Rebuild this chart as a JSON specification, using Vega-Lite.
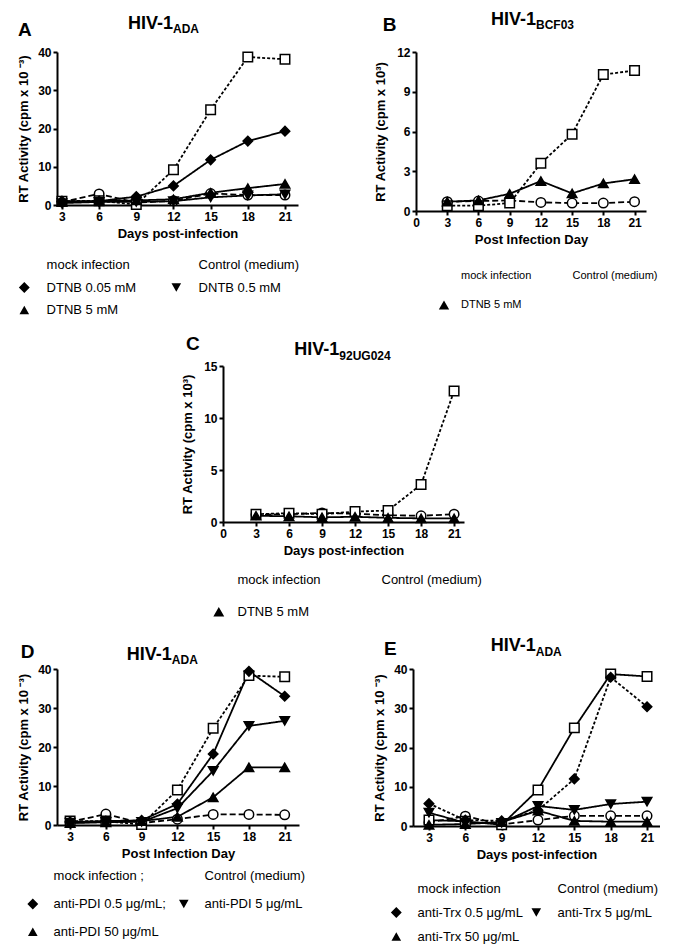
{
 "$schema": "https://vega.github.io/schema/vega-lite/v6.json",
 "padding": {"left": 17, "top": 10, "right": 0, "bottom": 0},
 "autosize": {"type": "pad"},
 "background": "white",
 "config": {
  "font": "Liberation Sans",
  "view": {"stroke": null},
  "axis": {"domainColor": "black", "domainWidth": 2, "tickColor": "black", "tickWidth": 2, "tickSize": 4, "labelFont": "Liberation Sans", "labelFontWeight": "bold", "labelFontSize": 12, "labelColor": "black", "titleFont": "Liberation Sans", "titleFontWeight": "bold", "titleFontSize": 13, "titleColor": "black", "grid": false, "labelPadding": 2, "labelFlush": false, "labelOverlap": false, "tickCount": 30},
  "legend": {"padding": 0, "labelFont": "Liberation Sans", "labelColor": "black", "labelLimit": 400, "symbolStrokeColor": "black", "symbolStrokeWidth": 1.5, "symbolOpacity": 1, "direction": "horizontal"},
  "text": {"font": "Liberation Sans", "fontWeight": "bold", "color": "black"}
 },
 "datasets": {
  "A": [
   {"series": "mock infection", "day": 3, "rt": 0.8}, {"series": "mock infection", "day": 6, "rt": 2.9}, {"series": "mock infection", "day": 9, "rt": 0.6}, {"series": "mock infection", "day": 12, "rt": 1.1}, {"series": "mock infection", "day": 15, "rt": 3.0}, {"series": "mock infection", "day": 18, "rt": 2.6}, {"series": "mock infection", "day": 21, "rt": 2.6},
   {"series": "Control (medium)", "day": 3, "rt": 1.0}, {"series": "Control (medium)", "day": 6, "rt": 1.1}, {"series": "Control (medium)", "day": 9, "rt": 0.1}, {"series": "Control (medium)", "day": 12, "rt": 9.2}, {"series": "Control (medium)", "day": 15, "rt": 24.9}, {"series": "Control (medium)", "day": 18, "rt": 38.7}, {"series": "Control (medium)", "day": 21, "rt": 38.1},
   {"series": "DTNB 0.05 mM", "day": 3, "rt": 1.0}, {"series": "DTNB 0.05 mM", "day": 6, "rt": 1.0}, {"series": "DTNB 0.05 mM", "day": 9, "rt": 2.2}, {"series": "DTNB 0.05 mM", "day": 12, "rt": 5.0}, {"series": "DTNB 0.05 mM", "day": 15, "rt": 11.8}, {"series": "DTNB 0.05 mM", "day": 18, "rt": 16.7}, {"series": "DTNB 0.05 mM", "day": 21, "rt": 19.3},
   {"series": "DNTB 0.5 mM", "day": 3, "rt": 0.5}, {"series": "DNTB 0.5 mM", "day": 6, "rt": 0.8}, {"series": "DNTB 0.5 mM", "day": 9, "rt": 0.8}, {"series": "DNTB 0.5 mM", "day": 12, "rt": 1.0}, {"series": "DNTB 0.5 mM", "day": 15, "rt": 2.0}, {"series": "DNTB 0.5 mM", "day": 18, "rt": 2.5}, {"series": "DNTB 0.5 mM", "day": 21, "rt": 2.8},
   {"series": "DTNB 5 mM", "day": 3, "rt": 0.8}, {"series": "DTNB 5 mM", "day": 6, "rt": 1.0}, {"series": "DTNB 5 mM", "day": 9, "rt": 1.2}, {"series": "DTNB 5 mM", "day": 12, "rt": 1.5}, {"series": "DTNB 5 mM", "day": 15, "rt": 3.2}, {"series": "DTNB 5 mM", "day": 18, "rt": 4.4}, {"series": "DTNB 5 mM", "day": 21, "rt": 5.5}
  ],
  "B": [
   {"series": "mock infection", "day": 3, "rt": 0.7}, {"series": "mock infection", "day": 6, "rt": 0.75}, {"series": "mock infection", "day": 9, "rt": 0.8}, {"series": "mock infection", "day": 12, "rt": 0.65}, {"series": "mock infection", "day": 15, "rt": 0.6}, {"series": "mock infection", "day": 18, "rt": 0.6}, {"series": "mock infection", "day": 21, "rt": 0.7},
   {"series": "Control (medium)", "day": 3, "rt": 0.4}, {"series": "Control (medium)", "day": 6, "rt": 0.4}, {"series": "Control (medium)", "day": 9, "rt": 0.6}, {"series": "Control (medium)", "day": 12, "rt": 3.6}, {"series": "Control (medium)", "day": 15, "rt": 5.8}, {"series": "Control (medium)", "day": 18, "rt": 10.3}, {"series": "Control (medium)", "day": 21, "rt": 10.6},
   {"series": "DTNB 5 mM", "day": 3, "rt": 0.7}, {"series": "DTNB 5 mM", "day": 6, "rt": 0.8}, {"series": "DTNB 5 mM", "day": 9, "rt": 1.3}, {"series": "DTNB 5 mM", "day": 12, "rt": 2.26}, {"series": "DTNB 5 mM", "day": 15, "rt": 1.33}, {"series": "DTNB 5 mM", "day": 18, "rt": 2.08}, {"series": "DTNB 5 mM", "day": 21, "rt": 2.4}
  ],
  "C": [
   {"series": "mock infection", "day": 3, "rt": 0.7}, {"series": "mock infection", "day": 6, "rt": 0.75}, {"series": "mock infection", "day": 9, "rt": 0.87}, {"series": "mock infection", "day": 12, "rt": 0.8}, {"series": "mock infection", "day": 15, "rt": 0.65}, {"series": "mock infection", "day": 18, "rt": 0.6}, {"series": "mock infection", "day": 21, "rt": 0.75},
   {"series": "Control (medium)", "day": 3, "rt": 0.75}, {"series": "Control (medium)", "day": 6, "rt": 0.85}, {"series": "Control (medium)", "day": 9, "rt": 0.75}, {"series": "Control (medium)", "day": 12, "rt": 1.0}, {"series": "Control (medium)", "day": 15, "rt": 1.1}, {"series": "Control (medium)", "day": 18, "rt": 3.6}, {"series": "Control (medium)", "day": 21, "rt": 12.6},
   {"series": "DTNB 5 mM", "day": 3, "rt": 0.6}, {"series": "DTNB 5 mM", "day": 6, "rt": 0.55}, {"series": "DTNB 5 mM", "day": 9, "rt": 0.45}, {"series": "DTNB 5 mM", "day": 12, "rt": 0.5}, {"series": "DTNB 5 mM", "day": 15, "rt": 0.4}, {"series": "DTNB 5 mM", "day": 18, "rt": 0.35}, {"series": "DTNB 5 mM", "day": 21, "rt": 0.35}
  ],
  "D": [
   {"series": "mock infection ;", "day": 3, "rt": 0.8}, {"series": "mock infection ;", "day": 6, "rt": 2.8}, {"series": "mock infection ;", "day": 9, "rt": 0.5}, {"series": "mock infection ;", "day": 12, "rt": 1.5}, {"series": "mock infection ;", "day": 15, "rt": 2.7}, {"series": "mock infection ;", "day": 18, "rt": 2.7}, {"series": "mock infection ;", "day": 21, "rt": 2.6},
   {"series": "Control (medium)", "day": 3, "rt": 1.0}, {"series": "Control (medium)", "day": 6, "rt": 1.0}, {"series": "Control (medium)", "day": 9, "rt": 0.1}, {"series": "Control (medium)", "day": 12, "rt": 9.0}, {"series": "Control (medium)", "day": 15, "rt": 24.8}, {"series": "Control (medium)", "day": 18, "rt": 38.3}, {"series": "Control (medium)", "day": 21, "rt": 38.0},
   {"series": "anti-PDI 0.5 μg/mL;", "day": 3, "rt": 0.8}, {"series": "anti-PDI 0.5 μg/mL;", "day": 6, "rt": 1.0}, {"series": "anti-PDI 0.5 μg/mL;", "day": 9, "rt": 1.2}, {"series": "anti-PDI 0.5 μg/mL;", "day": 12, "rt": 5.4}, {"series": "anti-PDI 0.5 μg/mL;", "day": 15, "rt": 18.2}, {"series": "anti-PDI 0.5 μg/mL;", "day": 18, "rt": 39.4}, {"series": "anti-PDI 0.5 μg/mL;", "day": 21, "rt": 33.0},
   {"series": "anti-PDI 5 μg/mL", "day": 3, "rt": 0.6}, {"series": "anti-PDI 5 μg/mL", "day": 6, "rt": 0.8}, {"series": "anti-PDI 5 μg/mL", "day": 9, "rt": 0.8}, {"series": "anti-PDI 5 μg/mL", "day": 12, "rt": 4.3}, {"series": "anti-PDI 5 μg/mL", "day": 15, "rt": 13.9}, {"series": "anti-PDI 5 μg/mL", "day": 18, "rt": 25.4}, {"series": "anti-PDI 5 μg/mL", "day": 21, "rt": 26.7},
   {"series": "anti-PDI 50 μg/mL", "day": 3, "rt": 0.5}, {"series": "anti-PDI 50 μg/mL", "day": 6, "rt": 0.7}, {"series": "anti-PDI 50 μg/mL", "day": 9, "rt": 1.0}, {"series": "anti-PDI 50 μg/mL", "day": 12, "rt": 2.1}, {"series": "anti-PDI 50 μg/mL", "day": 15, "rt": 7.1}, {"series": "anti-PDI 50 μg/mL", "day": 18, "rt": 14.8}, {"series": "anti-PDI 50 μg/mL", "day": 21, "rt": 14.8}
  ],
  "E": [
   {"series": "mock infection", "day": 3, "rt": 0.9}, {"series": "mock infection", "day": 6, "rt": 2.5}, {"series": "mock infection", "day": 9, "rt": 0.4}, {"series": "mock infection", "day": 12, "rt": 1.5}, {"series": "mock infection", "day": 15, "rt": 2.6}, {"series": "mock infection", "day": 18, "rt": 2.6}, {"series": "mock infection", "day": 21, "rt": 2.6},
   {"series": "Control (medium)", "day": 3, "rt": 1.5}, {"series": "Control (medium)", "day": 6, "rt": 1.2}, {"series": "Control (medium)", "day": 9, "rt": 0.3}, {"series": "Control (medium)", "day": 12, "rt": 9.2}, {"series": "Control (medium)", "day": 15, "rt": 25.0}, {"series": "Control (medium)", "day": 18, "rt": 38.7}, {"series": "Control (medium)", "day": 21, "rt": 38.1},
   {"series": "anti-Trx 0.5 μg/mL", "day": 3, "rt": 5.7}, {"series": "anti-Trx 0.5 μg/mL", "day": 6, "rt": 1.5}, {"series": "anti-Trx 0.5 μg/mL", "day": 9, "rt": 1.3}, {"series": "anti-Trx 0.5 μg/mL", "day": 12, "rt": 4.0}, {"series": "anti-Trx 0.5 μg/mL", "day": 15, "rt": 12.0}, {"series": "anti-Trx 0.5 μg/mL", "day": 18, "rt": 37.9}, {"series": "anti-Trx 0.5 μg/mL", "day": 21, "rt": 30.4},
   {"series": "anti-Trx 5 μg/mL", "day": 3, "rt": 3.4}, {"series": "anti-Trx 5 μg/mL", "day": 6, "rt": 0.8}, {"series": "anti-Trx 5 μg/mL", "day": 9, "rt": 0.8}, {"series": "anti-Trx 5 μg/mL", "day": 12, "rt": 5.1}, {"series": "anti-Trx 5 μg/mL", "day": 15, "rt": 4.1}, {"series": "anti-Trx 5 μg/mL", "day": 18, "rt": 5.6}, {"series": "anti-Trx 5 μg/mL", "day": 21, "rt": 6.2},
   {"series": "anti-Trx 50 μg/mL", "day": 3, "rt": 0.3}, {"series": "anti-Trx 50 μg/mL", "day": 6, "rt": 0.5}, {"series": "anti-Trx 50 μg/mL", "day": 9, "rt": 1.0}, {"series": "anti-Trx 50 μg/mL", "day": 12, "rt": 3.9}, {"series": "anti-Trx 50 μg/mL", "day": 15, "rt": 1.3}, {"series": "anti-Trx 50 μg/mL", "day": 18, "rt": 1.1}, {"series": "anti-Trx 50 μg/mL", "day": 21, "rt": 1.1}
  ]
 },
 "spacing": 16,
 "resolve": {"scale": {"shape": "independent", "fill": "independent", "strokeDash": "independent"}, "legend": {"shape": "independent", "fill": "independent", "strokeDash": "independent"}},
 "vconcat": [
  {"hconcat": [
   {"width": 241, "height": 153, "data": {"name": "A"},
    "resolve": {"scale": {"shape": "independent", "fill": "independent", "strokeDash": "independent"}, "legend": {"shape": "independent", "fill": "independent", "strokeDash": "independent"}},
    "layer": [
     {"mark": {"type": "line", "color": "black", "strokeWidth": 1.8},
      "encoding": {
       "x": {"field": "day", "type": "quantitative", "scale": {"domain": [2.6, 22.05], "nice": false, "zero": false}, "axis": {"values": [3, 6, 9, 12, 15, 18, 21], "format": "d", "title": "Days post-infection", "titlePadding": 5}},
       "y": {"field": "rt", "type": "quantitative", "scale": {"domain": [0, 40], "nice": false}, "axis": {"values": [0, 10, 20, 30, 40], "format": "d", "title": "RT Activity (cpm x 10 ⁻³)", "titlePadding": 7}},
       "strokeDash": {"field": "series", "type": "nominal", "scale": {"domain": ["DTNB 5 mM", "DNTB 0.5 mM", "DTNB 0.05 mM", "Control (medium)", "mock infection"], "range": [[1, 0], [1, 0], [1, 0], [3, 2], [6, 3]]}, "legend": null}
      }},
     {"mark": {"type": "point", "filled": true, "stroke": "black", "strokeWidth": 1.5, "size": 90, "opacity": 1},
      "encoding": {
       "x": {"field": "day", "type": "quantitative"},
       "y": {"field": "rt", "type": "quantitative"},
       "shape": {"field": "series", "type": "nominal", "scale": {"domain": ["DTNB 5 mM", "DNTB 0.5 mM", "DTNB 0.05 mM", "Control (medium)", "mock infection"], "range": ["triangle-up", "triangle-down", "diamond", "square", "circle"]}, "legend": null},
       "fill": {"field": "series", "type": "nominal", "scale": {"domain": ["DTNB 5 mM", "DNTB 0.5 mM", "DTNB 0.05 mM", "Control (medium)", "mock infection"], "range": ["black", "black", "black", "white", "white"]}, "legend": null}
      }},
     {"layer": [
       {"transform": [{"filter": "false"}],
        "mark": {"type": "line", "color": "black", "strokeWidth": 1.5},
        "encoding": {
         "x": {"field": "day", "type": "quantitative"},
         "y": {"field": "rt", "type": "quantitative"},
         "strokeDash": {"field": "series", "type": "nominal", "scale": {"domain": ["mock infection", "Control (medium)", "DTNB 0.05 mM", "DNTB 0.5 mM", "DTNB 5 mM"], "range": [[1, 0], [1, 0], [1, 0], [1, 0], [1, 0]]},
          "legend": {"title": null, "orient": "none", "direction": "horizontal", "legendX": -39.2, "legendY": 206.5, "columns": 2, "labelFontSize": 13, "labelOffset": 15.8, "columnPadding": 27, "rowPadding": 6.5, "symbolSize": 70}}
        }},
       {"transform": [{"filter": "false"}],
        "mark": {"type": "point", "filled": true, "stroke": "black", "strokeWidth": 1.5, "size": 70},
        "encoding": {
         "x": {"field": "day", "type": "quantitative"},
         "y": {"field": "rt", "type": "quantitative"},
         "shape": {"field": "series", "type": "nominal", "scale": {"domain": ["mock infection", "Control (medium)", "DTNB 0.05 mM", "DNTB 0.5 mM", "DTNB 5 mM"], "range": ["M-2.2,0H2.2M-1,0A1,1,0,1,1,1,0A1,1,0,1,1,-1,0Z", "M-2.2,0H2.2M-1,-1H1V1H-1Z", "M-2.2,0H2.2M0,-1.3L1.3,0L0,1.3L-1.3,0Z", "M-2.2,0H2.2M-1.15,-1H1.15L0,1Z", "M-2.2,0H2.2M0,-1L1.15,1H-1.15Z"]},
          "legend": {"title": null, "orient": "none", "direction": "horizontal", "legendX": -39.2, "legendY": 206.5, "columns": 2, "labelFontSize": 13, "labelOffset": 15.8, "columnPadding": 27, "rowPadding": 6.5, "symbolSize": 70}},
         "fill": {"field": "series", "type": "nominal", "scale": {"domain": ["mock infection", "Control (medium)", "DTNB 0.05 mM", "DNTB 0.5 mM", "DTNB 5 mM"], "range": ["white", "white", "black", "black", "black"]},
          "legend": {"title": null, "orient": "none", "direction": "horizontal", "legendX": -39.2, "legendY": 206.5, "columns": 2, "labelFontSize": 13, "labelOffset": 15.8, "columnPadding": 27, "rowPadding": 6.5, "symbolSize": 70}}
        }}
     ]},
     {"data": {"values": [{"main": "HIV-1", "sub": "ADA", "letter": "A"}]},
      "layer": [
       {"mark": {"type": "text", "fontSize": 18, "align": "right", "baseline": "alphabetic"}, "encoding": {"x": {"datum": 11.96}, "y": {"datum": 45.9}, "text": {"field": "main"}}},
       {"mark": {"type": "text", "fontSize": 12, "align": "left", "baseline": "alphabetic", "dy": 4}, "encoding": {"x": {"datum": 11.96}, "y": {"datum": 45.9}, "text": {"field": "sub"}}},
       {"mark": {"type": "text", "fontSize": 19, "align": "left", "baseline": "alphabetic"}, "encoding": {"x": {"datum": -0.55}, "y": {"datum": 44.2}, "text": {"field": "letter"}}}
      ]}
    ]},
   {"width": 230, "height": 159, "data": {"name": "B"},
    "resolve": {"scale": {"shape": "independent", "fill": "independent", "strokeDash": "independent"}, "legend": {"shape": "independent", "fill": "independent", "strokeDash": "independent"}},
    "layer": [
     {"mark": {"type": "line", "color": "black", "strokeWidth": 1.8},
      "encoding": {
       "x": {"field": "day", "type": "quantitative", "scale": {"domain": [0, 22.1], "nice": false, "zero": false}, "axis": {"values": [0, 3, 6, 9, 12, 15, 18, 21], "format": "d", "title": "Post Infection Day", "titlePadding": 5}},
       "y": {"field": "rt", "type": "quantitative", "scale": {"domain": [0, 12], "nice": false}, "axis": {"values": [0, 3, 6, 9, 12], "format": "d", "title": "RT  Activity (cpm x 10³)", "titlePadding": 9}},
       "strokeDash": {"field": "series", "type": "nominal", "scale": {"domain": ["DTNB 5 mM", "Control (medium)", "mock infection"], "range": [[1, 0], [3, 2], [6, 3]]}, "legend": null}
      }},
     {"mark": {"type": "point", "filled": true, "stroke": "black", "strokeWidth": 1.5, "size": 90, "opacity": 1},
      "encoding": {
       "x": {"field": "day", "type": "quantitative"},
       "y": {"field": "rt", "type": "quantitative"},
       "shape": {"field": "series", "type": "nominal", "scale": {"domain": ["DTNB 5 mM", "Control (medium)", "mock infection"], "range": ["triangle-up", "square", "circle"]}, "legend": null},
       "fill": {"field": "series", "type": "nominal", "scale": {"domain": ["DTNB 5 mM", "Control (medium)", "mock infection"], "range": ["black", "white", "white"]}, "legend": null}
      }},
     {"layer": [
       {"transform": [{"filter": "false"}],
        "mark": {"type": "line", "color": "black", "strokeWidth": 1.5},
        "encoding": {
         "x": {"field": "day", "type": "quantitative"},
         "y": {"field": "rt", "type": "quantitative"},
         "strokeDash": {"field": "series", "type": "nominal", "scale": {"domain": ["mock infection", "Control (medium)", "DTNB 5 mM"], "range": [[1, 0], [1, 0], [1, 0]]},
          "legend": {"title": null, "orient": "none", "direction": "horizontal", "legendX": 22.5, "legendY": 218.5, "columns": 2, "labelFontSize": 11, "labelOffset": 11.5, "columnPadding": 10.5, "rowPadding": 14, "symbolSize": 81}}
        }},
       {"transform": [{"filter": "false"}],
        "mark": {"type": "point", "filled": true, "stroke": "black", "strokeWidth": 1.5, "size": 81},
        "encoding": {
         "x": {"field": "day", "type": "quantitative"},
         "y": {"field": "rt", "type": "quantitative"},
         "shape": {"field": "series", "type": "nominal", "scale": {"domain": ["mock infection", "Control (medium)", "DTNB 5 mM"], "range": ["M-2.2,0H2.2M-1,0A1,1,0,1,1,1,0A1,1,0,1,1,-1,0Z", "M-2.2,0H2.2M-1,-1H1V1H-1Z", "M-2.2,0H2.2M0,-1L1.15,1H-1.15Z"]},
          "legend": {"title": null, "orient": "none", "direction": "horizontal", "legendX": 22.5, "legendY": 218.5, "columns": 2, "labelFontSize": 11, "labelOffset": 11.5, "columnPadding": 10.5, "rowPadding": 14, "symbolSize": 81}},
         "fill": {"field": "series", "type": "nominal", "scale": {"domain": ["mock infection", "Control (medium)", "DTNB 5 mM"], "range": ["white", "white", "black"]},
          "legend": {"title": null, "orient": "none", "direction": "horizontal", "legendX": 22.5, "legendY": 218.5, "columns": 2, "labelFontSize": 11, "labelOffset": 11.5, "columnPadding": 10.5, "rowPadding": 14, "symbolSize": 81}}
        }}
     ]},
     {"data": {"values": [{"main": "HIV-1", "sub": "BCF03", "letter": "B"}]},
      "layer": [
       {"mark": {"type": "text", "fontSize": 18, "align": "right", "baseline": "alphabetic"}, "encoding": {"x": {"datum": 11.53}, "y": {"datum": 14.04}, "text": {"field": "main"}}},
       {"mark": {"type": "text", "fontSize": 12, "align": "left", "baseline": "alphabetic", "dy": 4.3}, "encoding": {"x": {"datum": 11.53}, "y": {"datum": 14.04}, "text": {"field": "sub"}}},
       {"mark": {"type": "text", "fontSize": 19, "align": "left", "baseline": "alphabetic"}, "encoding": {"x": {"datum": -3.2}, "y": {"datum": 13.58}, "text": {"field": "letter"}}}
      ]}
    ]}
  ], "spacing": 118, "bounds": "flush",
  "resolve": {"scale": {"shape": "independent", "fill": "independent", "strokeDash": "independent"}, "legend": {"shape": "independent", "fill": "independent", "strokeDash": "independent"}}},
  {"hconcat": [
   {"width": 161, "height": 1, "data": {"values": [{"blank": ""}]}, "mark": {"type": "text"}, "encoding": {"text": {"field": "blank"}}},
   {"width": 241, "height": 156, "data": {"name": "C"},
    "resolve": {"scale": {"shape": "independent", "fill": "independent", "strokeDash": "independent"}, "legend": {"shape": "independent", "fill": "independent", "strokeDash": "independent"}},
    "layer": [
     {"mark": {"type": "line", "color": "black", "strokeWidth": 1.8},
      "encoding": {
       "x": {"field": "day", "type": "quantitative", "scale": {"domain": [0, 21.9], "nice": false, "zero": false}, "axis": {"values": [0, 3, 6, 9, 12, 15, 18, 21], "format": "d", "title": "Days post-infection", "titlePadding": 5}},
       "y": {"field": "rt", "type": "quantitative", "scale": {"domain": [0, 15], "nice": false}, "axis": {"values": [0, 5, 10, 15], "format": "d", "title": "RT  Activity (cpm x 10³)", "titlePadding": 9}},
       "strokeDash": {"field": "series", "type": "nominal", "scale": {"domain": ["DTNB 5 mM", "Control (medium)", "mock infection"], "range": [[1, 0], [3, 2], [6, 3]]}, "legend": null}
      }},
     {"mark": {"type": "point", "filled": true, "stroke": "black", "strokeWidth": 1.5, "size": 90, "opacity": 1},
      "encoding": {
       "x": {"field": "day", "type": "quantitative"},
       "y": {"field": "rt", "type": "quantitative"},
       "shape": {"field": "series", "type": "nominal", "scale": {"domain": ["DTNB 5 mM", "Control (medium)", "mock infection"], "range": ["triangle-up", "square", "circle"]}, "legend": null},
       "fill": {"field": "series", "type": "nominal", "scale": {"domain": ["DTNB 5 mM", "Control (medium)", "mock infection"], "range": ["black", "white", "white"]}, "legend": null}
      }},
     {"layer": [
       {"transform": [{"filter": "false"}],
        "mark": {"type": "line", "color": "black", "strokeWidth": 1.5},
        "encoding": {
         "x": {"field": "day", "type": "quantitative"},
         "y": {"field": "rt", "type": "quantitative"},
         "strokeDash": {"field": "series", "type": "nominal", "scale": {"domain": ["mock infection", "Control (medium)", "DTNB 5 mM"], "range": [[1, 0], [1, 0], [1, 0]]},
          "legend": {"title": null, "orient": "none", "direction": "horizontal", "legendX": -10.7, "legendY": 207.2, "columns": 2, "labelFontSize": 13, "labelOffset": 12.2, "columnPadding": 28, "rowPadding": 15, "symbolSize": 90}}
        }},
       {"transform": [{"filter": "false"}],
        "mark": {"type": "point", "filled": true, "stroke": "black", "strokeWidth": 1.5, "size": 90},
        "encoding": {
         "x": {"field": "day", "type": "quantitative"},
         "y": {"field": "rt", "type": "quantitative"},
         "shape": {"field": "series", "type": "nominal", "scale": {"domain": ["mock infection", "Control (medium)", "DTNB 5 mM"], "range": ["M-2.2,0H2.2M-1,0A1,1,0,1,1,1,0A1,1,0,1,1,-1,0Z", "M-2.2,0H2.2M-1,-1H1V1H-1Z", "M-2.2,0H2.2M0,-1L1.15,1H-1.15Z"]},
          "legend": {"title": null, "orient": "none", "direction": "horizontal", "legendX": -10.7, "legendY": 207.2, "columns": 2, "labelFontSize": 13, "labelOffset": 12.2, "columnPadding": 28, "rowPadding": 15, "symbolSize": 90}},
         "fill": {"field": "series", "type": "nominal", "scale": {"domain": ["mock infection", "Control (medium)", "DTNB 5 mM"], "range": ["white", "white", "black"]},
          "legend": {"title": null, "orient": "none", "direction": "horizontal", "legendX": -10.7, "legendY": 207.2, "columns": 2, "labelFontSize": 13, "labelOffset": 12.2, "columnPadding": 28, "rowPadding": 15, "symbolSize": 90}}
        }}
     ]},
     {"data": {"values": [{"main": "HIV-1", "sub": "92UG024", "letter": "C"}]},
      "layer": [
       {"mark": {"type": "text", "fontSize": 18, "align": "right", "baseline": "alphabetic"}, "encoding": {"x": {"datum": 10.57}, "y": {"datum": 16.09}, "text": {"field": "main"}}},
       {"mark": {"type": "text", "fontSize": 12, "align": "left", "baseline": "alphabetic", "dy": 5}, "encoding": {"x": {"datum": 10.57}, "y": {"datum": 16.09}, "text": {"field": "sub"}}},
       {"mark": {"type": "text", "fontSize": 19, "align": "left", "baseline": "alphabetic"}, "encoding": {"x": {"datum": -3.36}, "y": {"datum": 16.57}, "text": {"field": "letter"}}}
      ]}
    ]}
  ], "spacing": 5, "bounds": "flush",
  "resolve": {"scale": {"shape": "independent", "fill": "independent", "strokeDash": "independent"}, "legend": {"shape": "independent", "fill": "independent", "strokeDash": "independent"}}},
  {"hconcat": [
   {"width": 242, "height": 156, "data": {"name": "D"},
    "resolve": {"scale": {"shape": "independent", "fill": "independent", "strokeDash": "independent"}, "legend": {"shape": "independent", "fill": "independent", "strokeDash": "independent"}},
    "layer": [
     {"mark": {"type": "line", "color": "black", "strokeWidth": 1.8},
      "encoding": {
       "x": {"field": "day", "type": "quantitative", "scale": {"domain": [1.9, 22.2], "nice": false, "zero": false}, "axis": {"values": [3, 6, 9, 12, 15, 18, 21], "format": "d", "title": "Post Infection Day", "titlePadding": 5}},
       "y": {"field": "rt", "type": "quantitative", "scale": {"domain": [0, 40], "nice": false}, "axis": {"values": [0, 10, 20, 30, 40], "format": "d", "title": "RT Activity (cpm x 10 ⁻³)", "titlePadding": 7}},
       "strokeDash": {"field": "series", "type": "nominal", "scale": {"domain": ["anti-PDI 50 μg/mL", "anti-PDI 5 μg/mL", "anti-PDI 0.5 μg/mL;", "Control (medium)", "mock infection ;"], "range": [[1, 0], [1, 0], [1, 0], [3, 2], [6, 3]]}, "legend": null}
      }},
     {"mark": {"type": "point", "filled": true, "stroke": "black", "strokeWidth": 1.5, "size": 90, "opacity": 1},
      "encoding": {
       "x": {"field": "day", "type": "quantitative"},
       "y": {"field": "rt", "type": "quantitative"},
       "shape": {"field": "series", "type": "nominal", "scale": {"domain": ["anti-PDI 50 μg/mL", "anti-PDI 5 μg/mL", "anti-PDI 0.5 μg/mL;", "Control (medium)", "mock infection ;"], "range": ["triangle-up", "triangle-down", "diamond", "square", "circle"]}, "legend": null},
       "fill": {"field": "series", "type": "nominal", "scale": {"domain": ["anti-PDI 50 μg/mL", "anti-PDI 5 μg/mL", "anti-PDI 0.5 μg/mL;", "Control (medium)", "mock infection ;"], "range": ["black", "black", "black", "white", "white"]}, "legend": null}
      }},
     {"layer": [
       {"transform": [{"filter": "false"}],
        "mark": {"type": "line", "color": "black", "strokeWidth": 1.5},
        "encoding": {
         "x": {"field": "day", "type": "quantitative"},
         "y": {"field": "rt", "type": "quantitative"},
         "strokeDash": {"field": "series", "type": "nominal", "scale": {"domain": ["mock infection ;", "Control (medium)", "anti-PDI 0.5 μg/mL;", "anti-PDI 5 μg/mL", "anti-PDI 50 μg/mL"], "range": [[1, 0], [1, 0], [1, 0], [1, 0], [1, 0]]},
          "legend": {"title": null, "orient": "none", "direction": "horizontal", "legendX": -30.7, "legendY": 200.8, "columns": 2, "labelFontSize": 13, "labelOffset": 14.3, "columnPadding": 5, "rowPadding": 11.7, "symbolSize": 70}}
        }},
       {"transform": [{"filter": "false"}],
        "mark": {"type": "point", "filled": true, "stroke": "black", "strokeWidth": 1.5, "size": 70},
        "encoding": {
         "x": {"field": "day", "type": "quantitative"},
         "y": {"field": "rt", "type": "quantitative"},
         "shape": {"field": "series", "type": "nominal", "scale": {"domain": ["mock infection ;", "Control (medium)", "anti-PDI 0.5 μg/mL;", "anti-PDI 5 μg/mL", "anti-PDI 50 μg/mL"], "range": ["M-2.2,0H2.2M-1,0A1,1,0,1,1,1,0A1,1,0,1,1,-1,0Z", "M-2.2,0H2.2M-1,-1H1V1H-1Z", "M-2.2,0H2.2M0,-1.3L1.3,0L0,1.3L-1.3,0Z", "M-2.2,0H2.2M-1.15,-1H1.15L0,1Z", "M-2.2,0H2.2M0,-1L1.15,1H-1.15Z"]},
          "legend": {"title": null, "orient": "none", "direction": "horizontal", "legendX": -30.7, "legendY": 200.8, "columns": 2, "labelFontSize": 13, "labelOffset": 14.3, "columnPadding": 5, "rowPadding": 11.7, "symbolSize": 70}},
         "fill": {"field": "series", "type": "nominal", "scale": {"domain": ["mock infection ;", "Control (medium)", "anti-PDI 0.5 μg/mL;", "anti-PDI 5 μg/mL", "anti-PDI 50 μg/mL"], "range": ["white", "white", "black", "black", "black"]},
          "legend": {"title": null, "orient": "none", "direction": "horizontal", "legendX": -30.7, "legendY": 200.8, "columns": 2, "labelFontSize": 13, "labelOffset": 14.3, "columnPadding": 5, "rowPadding": 11.7, "symbolSize": 70}}
        }}
     ]},
     {"data": {"values": [{"main": "HIV-1", "sub": "ADA", "letter": "D"}]},
      "layer": [
       {"mark": {"type": "text", "fontSize": 18, "align": "right", "baseline": "alphabetic"}, "encoding": {"x": {"datum": 11.53}, "y": {"datum": 42.4}, "text": {"field": "main"}}},
       {"mark": {"type": "text", "fontSize": 12, "align": "left", "baseline": "alphabetic", "dy": 4.3}, "encoding": {"x": {"datum": 11.53}, "y": {"datum": 42.4}, "text": {"field": "sub"}}},
       {"mark": {"type": "text", "fontSize": 19, "align": "left", "baseline": "alphabetic"}, "encoding": {"x": {"datum": -1.14}, "y": {"datum": 42.8}, "text": {"field": "letter"}}}
      ]}
    ]},
   {"width": 247, "height": 157, "data": {"name": "E"},
    "resolve": {"scale": {"shape": "independent", "fill": "independent", "strokeDash": "independent"}, "legend": {"shape": "independent", "fill": "independent", "strokeDash": "independent"}},
    "layer": [
     {"mark": {"type": "line", "color": "black", "strokeWidth": 1.8},
      "encoding": {
       "x": {"field": "day", "type": "quantitative", "scale": {"domain": [1.68, 22.07], "nice": false, "zero": false}, "axis": {"values": [3, 6, 9, 12, 15, 18, 21], "format": "d", "title": "Days post-infection", "titlePadding": 5}},
       "y": {"field": "rt", "type": "quantitative", "scale": {"domain": [0, 40], "nice": false}, "axis": {"values": [0, 10, 20, 30, 40], "format": "d", "title": "RT Activity (cpm x 10 ⁻³)", "titlePadding": 7}},
       "strokeDash": {"field": "series", "type": "nominal", "scale": {"domain": ["anti-Trx 50 μg/mL", "anti-Trx 5 μg/mL", "anti-Trx 0.5 μg/mL", "Control (medium)", "mock infection"], "range": [[1, 0], [1, 0], [3, 2], [1, 0], [6, 3]]}, "legend": null}
      }},
     {"mark": {"type": "point", "filled": true, "stroke": "black", "strokeWidth": 1.5, "size": 90, "opacity": 1},
      "encoding": {
       "x": {"field": "day", "type": "quantitative"},
       "y": {"field": "rt", "type": "quantitative"},
       "shape": {"field": "series", "type": "nominal", "scale": {"domain": ["anti-Trx 50 μg/mL", "anti-Trx 5 μg/mL", "anti-Trx 0.5 μg/mL", "Control (medium)", "mock infection"], "range": ["triangle-up", "triangle-down", "diamond", "square", "circle"]}, "legend": null},
       "fill": {"field": "series", "type": "nominal", "scale": {"domain": ["anti-Trx 50 μg/mL", "anti-Trx 5 μg/mL", "anti-Trx 0.5 μg/mL", "Control (medium)", "mock infection"], "range": ["black", "black", "black", "white", "white"]}, "legend": null}
      }},
     {"layer": [
       {"transform": [{"filter": "false"}],
        "mark": {"type": "line", "color": "black", "strokeWidth": 1.5},
        "encoding": {
         "x": {"field": "day", "type": "quantitative"},
         "y": {"field": "rt", "type": "quantitative"},
         "strokeDash": {"field": "series", "type": "nominal", "scale": {"domain": ["mock infection", "Control (medium)", "anti-Trx 0.5 μg/mL", "anti-Trx 5 μg/mL", "anti-Trx 50 μg/mL"], "range": [[1, 0], [1, 0], [1, 0], [1, 0], [1, 0]]},
          "legend": {"title": null, "orient": "none", "direction": "horizontal", "legendX": -23.2, "legendY": 213, "columns": 2, "labelFontSize": 13, "labelOffset": 14.8, "columnPadding": 0, "rowPadding": 8, "symbolSize": 70}}
        }},
       {"transform": [{"filter": "false"}],
        "mark": {"type": "point", "filled": true, "stroke": "black", "strokeWidth": 1.5, "size": 70},
        "encoding": {
         "x": {"field": "day", "type": "quantitative"},
         "y": {"field": "rt", "type": "quantitative"},
         "shape": {"field": "series", "type": "nominal", "scale": {"domain": ["mock infection", "Control (medium)", "anti-Trx 0.5 μg/mL", "anti-Trx 5 μg/mL", "anti-Trx 50 μg/mL"], "range": ["M-2.2,0H2.2M-1,0A1,1,0,1,1,1,0A1,1,0,1,1,-1,0Z", "M-2.2,0H2.2M-1,-1H1V1H-1Z", "M-2.2,0H2.2M0,-1.3L1.3,0L0,1.3L-1.3,0Z", "M-2.2,0H2.2M-1.15,-1H1.15L0,1Z", "M-2.2,0H2.2M0,-1L1.15,1H-1.15Z"]},
          "legend": {"title": null, "orient": "none", "direction": "horizontal", "legendX": -23.2, "legendY": 213, "columns": 2, "labelFontSize": 13, "labelOffset": 14.8, "columnPadding": 0, "rowPadding": 8, "symbolSize": 70}},
         "fill": {"field": "series", "type": "nominal", "scale": {"domain": ["mock infection", "Control (medium)", "anti-Trx 0.5 μg/mL", "anti-Trx 5 μg/mL", "anti-Trx 50 μg/mL"], "range": ["white", "white", "black", "black", "black"]},
          "legend": {"title": null, "orient": "none", "direction": "horizontal", "legendX": -23.2, "legendY": 213, "columns": 2, "labelFontSize": 13, "labelOffset": 14.8, "columnPadding": 0, "rowPadding": 8, "symbolSize": 70}}
        }}
     ]},
     {"data": {"values": [{"main": "HIV-1", "sub": "ADA", "letter": "E"}]},
      "layer": [
       {"mark": {"type": "text", "fontSize": 18, "align": "right", "baseline": "alphabetic"}, "encoding": {"x": {"datum": 11.81}, "y": {"datum": 44.5}, "text": {"field": "main"}}},
       {"mark": {"type": "text", "fontSize": 12, "align": "left", "baseline": "alphabetic", "dy": 4.5}, "encoding": {"x": {"datum": 11.81}, "y": {"datum": 44.5}, "text": {"field": "sub"}}},
       {"mark": {"type": "text", "fontSize": 19, "align": "left", "baseline": "alphabetic"}, "encoding": {"x": {"datum": -0.71}, "y": {"datum": 43.5}, "text": {"field": "letter"}}}
      ]}
    ]}
  ], "spacing": 114, "bounds": "flush",
  "resolve": {"scale": {"shape": "independent", "fill": "independent", "strokeDash": "independent"}, "legend": {"shape": "independent", "fill": "independent", "strokeDash": "independent"}}}
 ]
}
